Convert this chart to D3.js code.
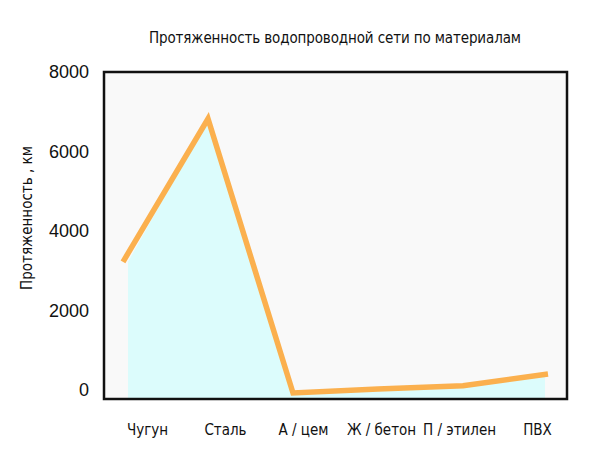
<!DOCTYPE html>
<meta charset="utf-8">
<head>
<title>Протяженность водопроводной сети</title>
<style>
  body { margin: 0; background: #fff; }
  .narrow { font-family: "DejaVu Sans", sans-serif; font-stretch: condensed; fill: #111; }
  .tick text { font-family: "Liberation Sans", Arial, sans-serif; font-size: 18px; fill: #111; }
</style>
</head>
<body>
<script src="https://cdn.jsdelivr.net/npm/d3@7/dist/d3.min.js"></script>
<script>

var categories = ["Чугун", "Сталь", "А / цем", "Ж / бетон", "П / этилен", "ПВХ"];
var lengths = [3300, 6900, 0, 100, 180, 480];
var yTicks = [0, 2000, 4000, 6000, 8000];

var W = 607, H = 472;
var frame = {left: 104, top: 72, right: 567, bottom: 399};

var svg = d3.select("body").append("svg")
    .attr("width", W)
    .attr("height", H);

// marks and labels are not aligned in the original, so two point scales
var x = d3.scalePoint().domain(categories).range([123, 548]);
var xl = d3.scalePoint().domain(categories).range([147, 537]);
var y = d3.scaleLinear().domain([0, 8000]).range([393, 75]);

var data = categories.map(function(c, i) { return {cat: c, v: lengths[i]}; });

// plot background
svg.append("rect")
    .attr("x", frame.left).attr("y", frame.top)
    .attr("width", frame.right - frame.left)
    .attr("height", frame.bottom - frame.top)
    .attr("fill", "#f9f9f9");

// fill under the line
var area = d3.area()
    .x(function(d, i) { return x(d.cat) + (i == 0 ? 5 : i == data.length - 1 ? -3 : 0); })
    .y0(frame.bottom)
    .y1(function(d) { return y(d.v); });

svg.append("path")
    .datum(data)
    .attr("d", area)
    .attr("fill", "#dcfcfc");

var line = d3.line()
    .x(function(d) { return x(d.cat); })
    .y(function(d) { return y(d.v); });

svg.append("path")
    .datum(data)
    .attr("d", line)
    .attr("fill", "none")
    .attr("stroke", "#fbb04e")
    .attr("stroke-width", 5.5)
    .attr("stroke-linejoin", "miter");

// frame
svg.append("rect")
    .attr("x", frame.left).attr("y", frame.top)
    .attr("width", frame.right - frame.left)
    .attr("height", frame.bottom - frame.top)
    .attr("fill", "none")
    .attr("stroke", "#111")
    .attr("stroke-width", 2.5);

// y axis labels
var yAxis = d3.axisLeft(y).tickValues(yTicks).tickFormat(d3.format("d"))
    .tickSize(0).tickPadding(0);
svg.append("g")
    .attr("transform", "translate(89,-3)")
    .call(yAxis)
    .call(function(g) { g.select(".domain").remove(); });

// x axis labels
var xAxis = d3.axisBottom(xl).tickSize(0).tickPadding(0);
svg.append("g")
    .attr("transform", "translate(0,424)")
    .call(xAxis)
    .call(function(g) { g.select(".domain").remove(); })
  .selectAll("text")
    .attr("class", "narrow")
    .style("font-family", "'DejaVu Sans', sans-serif")
    .style("font-stretch", "condensed")
    .style("font-size", "15px");

svg.append("text")
    .attr("class", "narrow")
    .attr("x", 335).attr("y", 43)
    .attr("text-anchor", "middle")
    .style("font-size", "15px")
    .attr("textLength", 372)
    .text("Протяженность водопроводной сети по материалам");

svg.append("text")
    .attr("class", "narrow")
    .attr("transform", "translate(32,218) rotate(-90)")
    .attr("text-anchor", "middle")
    .style("font-size", "15px")
    .text("Протяженность , км");

</script>
</body>
